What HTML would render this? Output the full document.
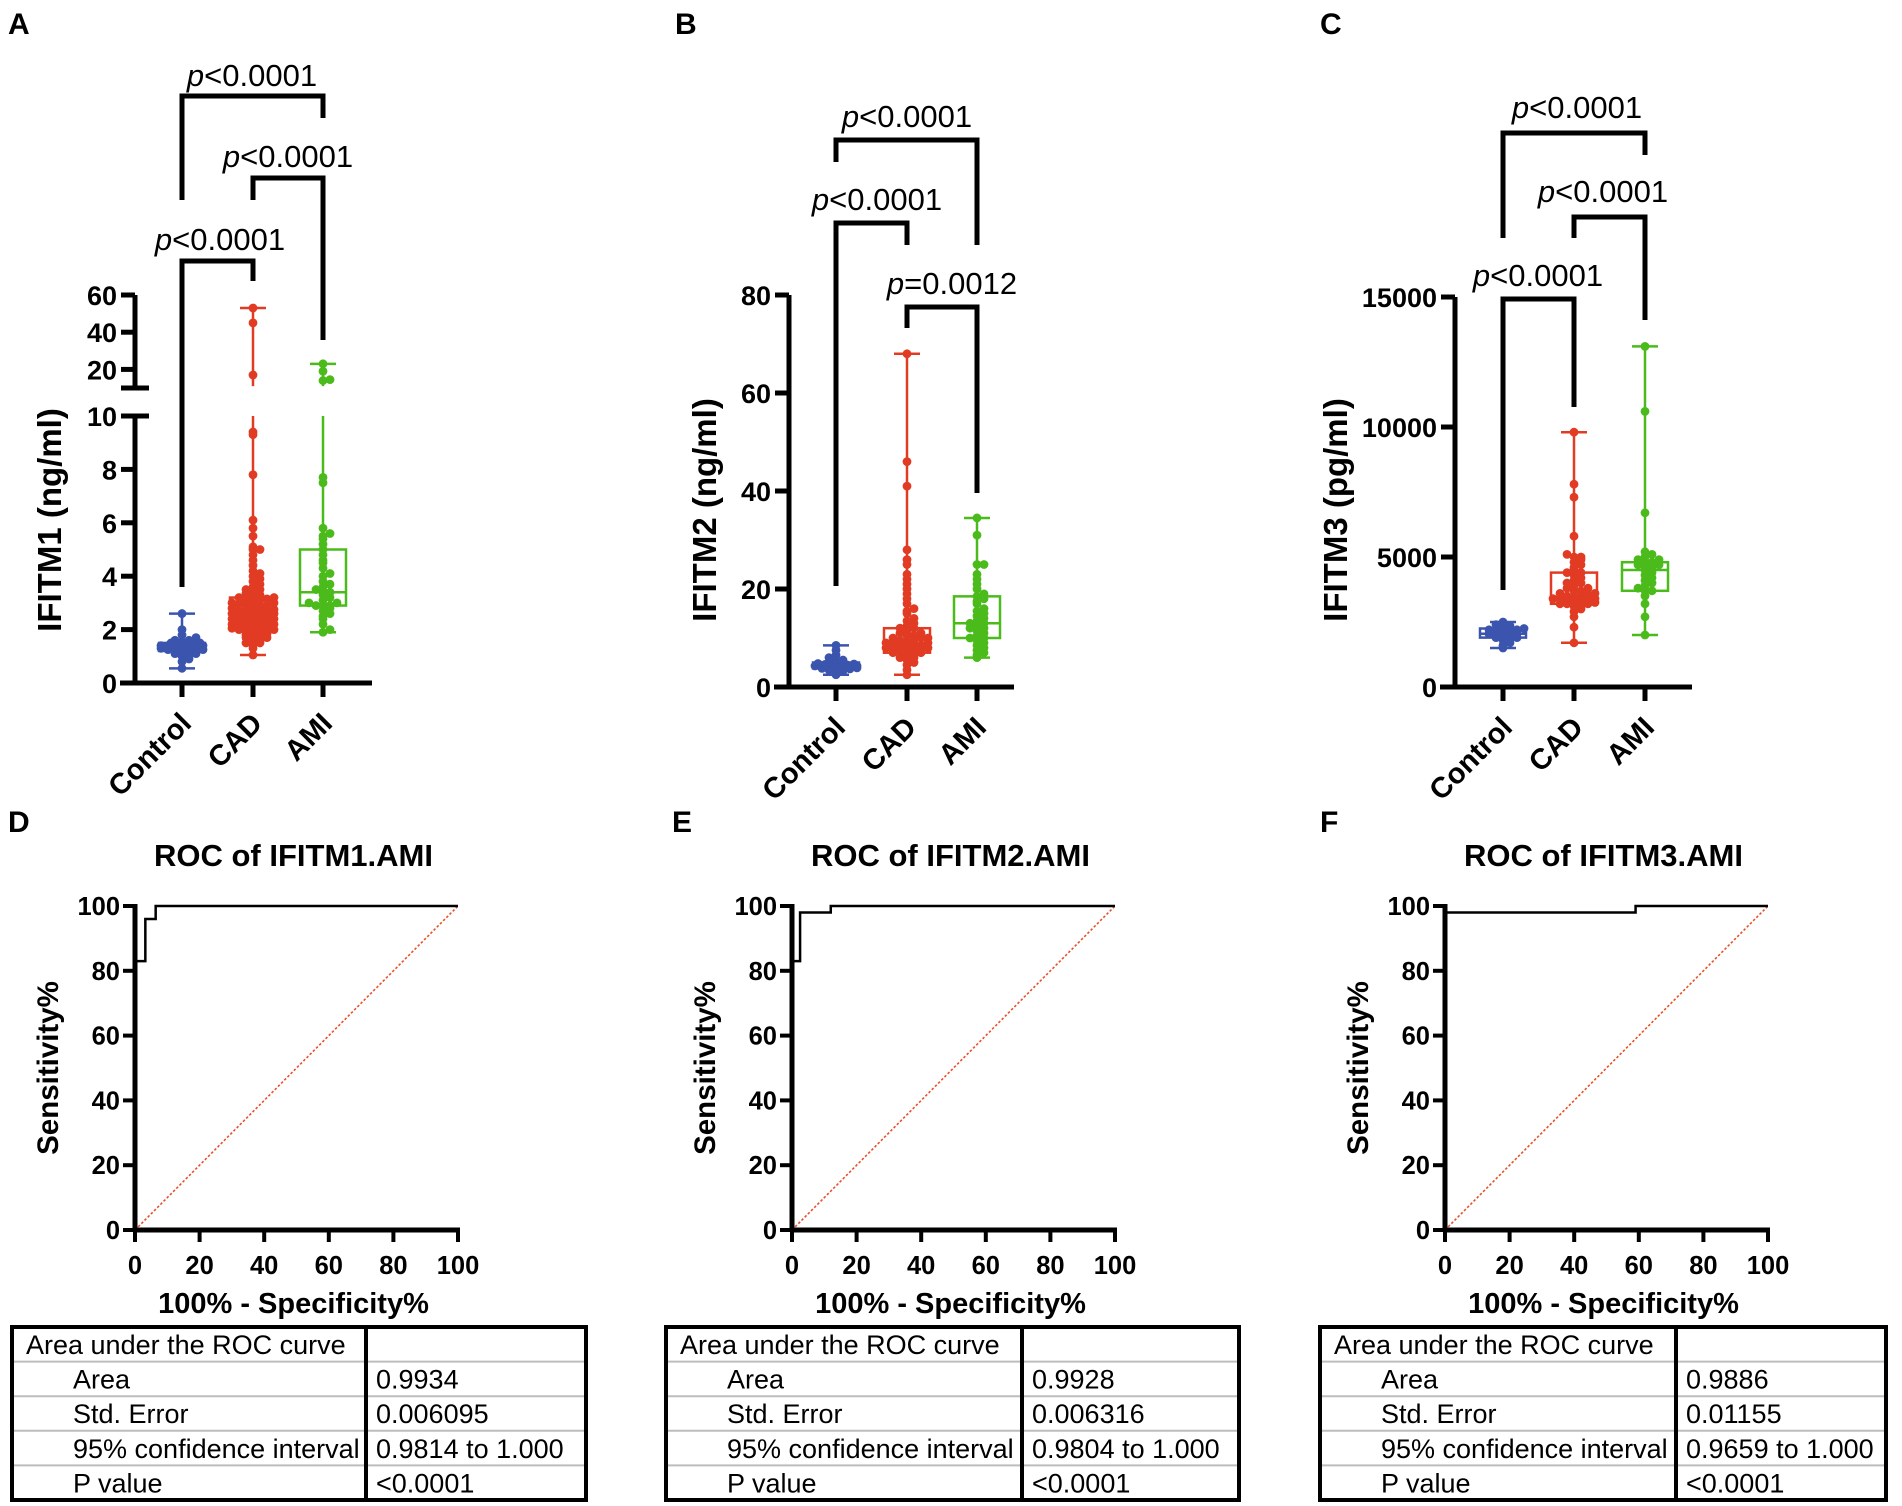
<!DOCTYPE html>
<html><head><meta charset="utf-8"><style>
html,body{margin:0;padding:0;background:#fff;}
svg, svg text{font-family:"Liberation Sans",Arial,sans-serif;}
svg{display:block;}
</style></head><body>
<svg id="fig" width="1902" height="1506" viewBox="0 0 1902 1506" xmlns="http://www.w3.org/2000/svg">
<g font-weight="bold" font-size="30" fill="#000">
<text x="8" y="34">A</text>
<text x="675" y="34">B</text>
<text x="1320" y="34">C</text>
<text x="8" y="832">D</text>
<text x="672" y="832">E</text>
<text x="1320" y="832">F</text>
</g>
</svg>
<script>
// ---------- data ----------
const groups = ["Control","CAD","AMI"];
const aCtrl = [0.55,0.8,0.9,1.0,1.05,1.1,1.1,1.15,1.2,1.2,1.2,1.25,1.25,1.3,1.3,1.3,1.3,1.35,1.35,1.35,1.4,1.4,1.4,1.4,1.45,1.45,1.5,1.5,1.5,1.55,1.6,1.6,1.7,1.8,2.0,2.6];
const aCad = [1.05,1.3,1.4,1.5,1.5,1.6,1.6,1.7,1.7,1.75,1.8,1.8,1.85,1.9,1.9,1.95,2.0,2.0,2.0,2.05,2.1,2.1,2.1,2.15,2.2,2.2,2.2,2.2,2.25,2.3,2.3,2.3,2.35,2.4,2.4,2.4,2.45,2.5,2.5,2.5,2.5,2.55,2.6,2.6,2.6,2.65,2.7,2.7,2.7,2.7,2.75,2.8,2.8,2.8,2.85,2.9,2.9,2.9,2.95,3.0,3.0,3.0,3.05,3.1,3.1,3.15,3.2,3.2,3.25,3.3,3.35,3.4,3.5,3.5,3.6,3.7,3.8,3.9,4.0,4.1,4.2,4.4,4.6,4.8,5.0,5.0,5.1,5.5,5.8,6.1,7.8,9.3,9.4,17,45,53];
const aAmi = [1.9,2.0,2.2,2.4,2.5,2.6,2.7,2.8,2.9,2.9,2.9,3.0,3.0,3.1,3.2,3.3,3.4,3.4,3.5,3.6,3.7,3.8,4.0,4.1,4.3,4.5,4.6,4.8,5.0,5.2,5.4,5.5,5.6,5.8,7.5,7.7,14,14.5,19,23];
const aStats = [[0.55,1.2,1.35,1.5,2.6],[1.05,2.2,2.7,3.2,53],[1.9,2.9,3.4,5.0,23]];
const aTicksLow = [0,2,4,6,8,10];
const aTicksHigh = [20,40,60];

const bCtrl = [2.5,3.0,3.3,3.5,3.7,3.8,3.9,4.0,4.0,4.1,4.2,4.2,4.3,4.3,4.4,4.5,4.5,4.6,4.7,4.8,4.9,5.0,5.0,5.2,5.5,6.0,6.5,7.5,8.5];
const bCad = [2.5,3.5,4.5,5.0,5.5,6.0,6.0,6.5,6.5,7.0,7.0,7.0,7.2,7.5,7.5,7.5,7.8,8.0,8.0,8.0,8.2,8.5,8.5,8.5,8.8,9.0,9.0,9.0,9.3,9.5,9.5,10,10,10,10.5,10.5,11,11,11.5,12,12,12.5,13,13.5,14,15,15.5,16,17,18,19,20,21,22,23,25,26,28,41,46,68];
const bAmi = [6,6.5,7,7.5,8,8.5,9,9.5,10,10,10.5,11,11.5,12,12,12.5,13,13,13.5,14,14.5,15,15.5,16,17,17.5,18,18.5,19,20,21,22,23,25,25,31,34.5];
const bStats = [[2.5,3.8,4.3,5.0,8.5],[2.5,7.0,8.5,12,68],[6,10,13,18.5,34.5]];
const bTicks = [0,20,40,60,80];

const cCtrl = [1500,1600,1700,1800,1850,1900,1900,1950,2000,2000,2050,2050,2100,2100,2150,2200,2200,2250,2300,2350,2400,2500];
const cCad = [1700,2300,2700,2900,3000,3100,3100,3200,3200,3200,3250,3300,3300,3300,3350,3400,3400,3400,3450,3500,3500,3550,3600,3600,3700,3700,3800,3800,3900,4000,4000,4100,4200,4300,4400,4400,4500,4600,4700,4800,4900,5000,5000,5100,5800,7300,7800,9800];
const cAmi = [2000,2700,3200,3500,3700,3700,3800,3900,4000,4100,4200,4300,4400,4500,4500,4600,4600,4700,4700,4800,4800,4900,4900,5000,5100,5200,6700,10600,13100];
const cStats = [[1500,1900,2050,2250,2500],[1700,3200,3400,4400,9800],[2000,3700,4500,4800,13100]];
const cTicks = [0,5000,10000,15000];

const rocDx = [0,3.2,3.2,6.4,6.4,100];
const rocDy = [83,83,96,96,100,100];
const rocEx = [0,2.5,2.5,12,12,100];
const rocEy = [83,83,98,98,100,100];
const rocFx = [0,59,59,100];
const rocFy = [98,98,100,100];
const rocTicks = [0,20,40,60,80,100];
const tableLabels = ["Area under the ROC curve","Area","Std. Error","95% confidence interval","P value"];
const tableD = ["","0.9934","0.006095","0.9814 to 1.000","<0.0001"];
const tableE = ["","0.9928","0.006316","0.9804 to 1.000","<0.0001"];
const tableF = ["","0.9886","0.01155","0.9659 to 1.000","<0.0001"];

// ---------- helpers ----------
const NS="http://www.w3.org/2000/svg";
const svg=document.getElementById('fig');
function el(tag,attrs,parent){const e=document.createElementNS(NS,tag);for(const k in attrs)e.setAttribute(k,attrs[k]);(parent||svg).appendChild(e);return e;}
function txt(s,attrs,parent){const e=el('text',attrs,parent);e.textContent=s;return e;}
const COLORS=["#3b55ae","#e23b24","#4bbb1c"];

function swarm(vals,cx,yf,color,g){
  const bins={};
  const offs=[0,7,-7,14,-14,21,-21,4,-4,11,-11,18,-18];
  vals.forEach(v=>{
    const y=yf(v);const b=Math.round(y/5);
    bins[b]=(bins[b]||0);const k=bins[b]%offs.length;bins[b]++;
    const c=el('circle',{cx:cx+offs[k],cy:y,r:4.4,fill:color},g);
    
    
  });
}
function boxplot(st,cx,yf,color,g,breakFn){
  const [mn,q1,md,q3,mx]=st;const hw=23,cw=13;
  const segs=breakFn?breakFn(mn,mx):[[mn,mx]];
  segs.forEach(s=>{const l=el('line',{x1:cx,x2:cx,y1:yf(s[0]),y2:yf(s[1]),stroke:color,'stroke-width':2.5},g);
    });
  [mn,mx].forEach(v=>{const l=el('line',{x1:cx-cw,x2:cx+cw,y1:yf(v),y2:yf(v),stroke:color,'stroke-width':2.5},g);
    });
  const r=el('rect',{x:cx-hw,y:yf(q3),width:hw*2,height:yf(q1)-yf(q3),fill:'none',stroke:color,'stroke-width':2.5},g);
  
  const m=el('line',{x1:cx-hw,x2:cx+hw,y1:yf(md),y2:yf(md),stroke:color,'stroke-width':2.5},g);
  
}
function bracket(x1,x2,yTop,y1,y2,label,tx,ty,g){
  const p=el('path',{d:`M${x1},${y1} V${yTop} H${x2} V${y2}`,fill:'none',stroke:'#000','stroke-width':5,'stroke-linejoin':'miter'},g);
  
  const t=el('text',{x:tx,y:ty,'text-anchor':'middle','font-size':31},g);
  
  const i=document.createElementNS(NS,'tspan');i.setAttribute('font-style','italic');i.textContent='p';t.appendChild(i);
  t.appendChild(document.createTextNode(label));
}
function catAxis(ax,y0,xs,xEnd,g){
  const l=el('line',{x1:ax-15,x2:xEnd,y1:y0,y2:y0,stroke:'#000','stroke-width':5},g);
  
  xs.forEach((x,i)=>{
    el('line',{x1:x,x2:x,y1:y0,y2:y0+14,stroke:'#000','stroke-width':5},g);
    const t=txt(groups[i],{x:x+11,y:y0+42,'text-anchor':'end','font-size':29,'font-weight':'bold',transform:`rotate(-45 ${x+11} ${y0+42})`},g);
    
  });
}
function yTicks(ax,ticks,yf,g){
  ticks.forEach(v=>{
    el('line',{x1:ax-14,x2:ax,y1:yf(v),y2:yf(v),stroke:'#000','stroke-width':5},g);
    const t=txt(String(v),{x:ax-18,y:yf(v)+10,'text-anchor':'end','font-size':27,'font-weight':'bold'},g);
    
  });
}
function yTitle(s,x,y,g){
  const t=txt(s,{x:x,y:y,'text-anchor':'middle','font-size':33,'font-weight':'bold',transform:`rotate(-90 ${x} ${y})`},g);
  
}

// ---------- Panel A ----------
(function(){
  const g=el('g',{});
  const ax=135,y0=683,xs=[182,253,323];
  const yf=v=> v<=10 ? y0-v*26.7 : 388-(v-10)*(93/50);
  el('line',{x1:ax,x2:ax,y1:y0,y2:yf(10),stroke:'#000','stroke-width':5},g);
  el('line',{x1:ax,x2:ax,y1:388,y2:yf(60),stroke:'#000','stroke-width':5},g);
  el('line',{x1:ax-14,x2:ax+14,y1:388,y2:388,stroke:'#000','stroke-width':5},g);
  el('line',{x1:ax-14,x2:ax+14,y1:yf(10),y2:yf(10),stroke:'#000','stroke-width':5},g);
  yTicks(ax,aTicksLow,yf,g);yTicks(ax,aTicksHigh,yf,g);
  catAxis(ax,y0,xs,372,g);
  yTitle("IFITM1 (ng/ml)",61,520,g);
  const br=(mn,mx)=> mx>10?[[mn,10],[11,mx]]:[[mn,mx]];
  [aCtrl,aCad,aAmi].forEach((d,i)=>{boxplot(aStats[i],xs[i],yf,COLORS[i],g,br);swarm(d,xs[i],yf,COLORS[i],g);});
  bracket(xs[0],xs[2],96,200,118,"<0.0001",252,86,g);
  bracket(xs[1],xs[2],178,200,340,"<0.0001",288,167,g);
  bracket(xs[0],xs[1],261,587,281,"<0.0001",220,250,g);
})();
// ---------- Panel B ----------
(function(){
  const g=el('g',{});
  const ax=789,y0=687,xs=[836,907,977];
  const yf=v=>y0-v*4.9;
  el('line',{x1:ax,x2:ax,y1:y0,y2:yf(80),stroke:'#000','stroke-width':5},g);
  yTicks(ax,bTicks,yf,g);
  catAxis(ax,y0,xs,1014,g);
  yTitle("IFITM2 (ng/ml)",716,510,g);
  [bCtrl,bCad,bAmi].forEach((d,i)=>{boxplot(bStats[i],xs[i],yf,COLORS[i],g);swarm(d,xs[i],yf,COLORS[i],g);});
  bracket(xs[0],xs[2],140,162,245,"<0.0001",907,127,g);
  bracket(xs[0],xs[1],223,586,245,"<0.0001",877,210,g);
  bracket(xs[1],xs[2],307,328,493,"=0.0012",952,294,g);
})();
// ---------- Panel C ----------
(function(){
  const g=el('g',{});
  const ax=1455,y0=687,xs=[1503,1574,1645];
  const yf=v=>y0-v*0.026;
  el('line',{x1:ax,x2:ax,y1:y0,y2:yf(15000),stroke:'#000','stroke-width':5},g);
  yTicks(ax,cTicks,yf,g);
  catAxis(ax,y0,xs,1692,g);
  yTitle("IFITM3 (pg/ml)",1347,510,g);
  [cCtrl,cCad,cAmi].forEach((d,i)=>{boxplot(cStats[i],xs[i],yf,COLORS[i],g);swarm(d,xs[i],yf,COLORS[i],g);});
  bracket(xs[0],xs[2],133,238,155,"<0.0001",1577,118,g);
  bracket(xs[1],xs[2],217,238,320,"<0.0001",1603,202,g);
  bracket(xs[0],xs[1],299,590,407,"<0.0001",1538,286,g);
})();
// ---------- ROC panels ----------
function roc(ax,name,title,xsArr,ysArr,tbl,tx0,tDiv,tx1){
  const g=el('g',{});
  const W=323,yTop=906,y0=1230;
  const xf=v=>ax+v/100*W, yf=v=>y0-v/100*(y0-yTop);
  const t=txt(title,{x:ax+W/2-3,y:866,'text-anchor':'middle','font-size':31,'font-weight':'bold'},g);
  
  const dg=el('line',{x1:xf(0),y1:yf(0),x2:xf(100),y2:yf(100),stroke:'#e8502a','stroke-width':1.6,'stroke-dasharray':'2.5 2'},g);
  
  let d=`M${xf(0)},${yf(0)}`;xsArr.forEach((x,i)=>{d+=` L${xf(x)},${yf(ysArr[i])}`;});
  const c=el('path',{d:d,fill:'none',stroke:'#000','stroke-width':2.5},g);
  
  el('line',{x1:ax,x2:ax,y1:y0+2,y2:yTop-2,stroke:'#000','stroke-width':5},g);
  el('line',{x1:ax-2,x2:xf(100)+2,y1:y0,y2:y0,stroke:'#000','stroke-width':5},g);
  rocTicks.forEach(v=>{
    el('line',{x1:ax-12,x2:ax,y1:yf(v),y2:yf(v),stroke:'#000','stroke-width':4},g);
    const a=txt(String(v),{x:ax-15,y:yf(v)+9,'text-anchor':'end','font-size':25.5,'font-weight':'bold'},g);
    
    el('line',{x1:xf(v),x2:xf(v),y1:y0,y2:y0+12,stroke:'#000','stroke-width':4},g);
    const b=txt(String(v),{x:xf(v),y:1274,'text-anchor':'middle','font-size':25.5,'font-weight':'bold'},g);
    
  });
  const xt=txt("100% - Specificity%",{x:ax+W/2-3,y:1313,'text-anchor':'middle','font-size':29,'font-weight':'bold'},g);
  
  const yx=ax-77,yy=1068;
  const yt=txt("Sensitivity%",{x:yx,y:yy,'text-anchor':'middle','font-size':29.5,'font-weight':'bold',transform:`rotate(-90 ${yx} ${yy})`},g);
  
  // table
  const tg=el('g',{},g);
  const top=1327,rh=34.6;
  for(let i=1;i<5;i++) el('line',{x1:tx0,x2:tx1,y1:top+i*rh,y2:top+i*rh,stroke:'#bdbdbd','stroke-width':2},tg);
  el('rect',{x:tx0,y:top,width:tx1-tx0,height:rh*5,fill:'none',stroke:'#000','stroke-width':4},tg);
  el('line',{x1:tDiv,x2:tDiv,y1:top,y2:top+rh*5,stroke:'#000','stroke-width':4},tg);
  tableLabels.forEach((s,i)=>{
    const a=txt(s,{x:tx0+(i==0?14:61),y:top+i*rh+27,'font-size':27},tg);
    
    if(tbl[i]){const b=txt(tbl[i],{x:tDiv+10,y:top+i*rh+27,'font-size':27},tg);
      }
  });
}
roc(135,'panel-d-roc','ROC of IFITM1.AMI',rocDx,rocDy,tableD,12,366,586);
roc(792,'panel-e-roc','ROC of IFITM2.AMI',rocEx,rocEy,tableE,666,1022,1239);
roc(1445,'panel-f-roc','ROC of IFITM3.AMI',rocFx,rocFy,tableF,1320,1676,1886);
</script>
</body></html>
